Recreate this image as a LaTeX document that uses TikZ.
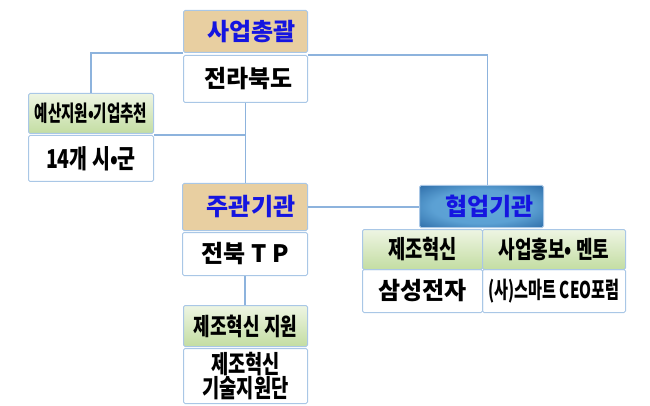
\documentclass[tikz,border=0pt]{standalone}
\usepackage{fontspec}
\setmainfont{Noto Sans CJK KR}[BoldFont={Noto Sans CJK KR Black}]
\newfontfamily\krnarrow{Noto Sans CJK KR}[BoldFont={Noto Sans CJK KR Black}, FakeStretch=0.75]
\newfontfamily\krtight{Noto Sans CJK KR}[BoldFont={Noto Sans CJK KR Black}, FakeStretch=0.66]
\definecolor{boxline}{HTML}{A9C7E6}
\definecolor{linkline}{HTML}{8DB3DD}
\definecolor{tanfill}{HTML}{E8CFA1}
\definecolor{hdrblue}{HTML}{1515E0}
\definecolor{greentop}{HTML}{EEF5E3}
\definecolor{greenbot}{HTML}{C3DDA2}
\definecolor{bluein}{HTML}{62A8DA}
\definecolor{blueout}{HTML}{1D5A98}
\pgfdeclareradialshading{bluebox}{\pgfpoint{0bp}{0bp}}{color(0bp)=(bluein); color(20bp)=(bluein!90!blueout); color(42bp)=(blueout); color(72bp)=(blueout)}
\tikzset{
	cell/.style={draw=boxline, line width=1pt, rounded corners=1.5pt, inner sep=0pt,
		anchor=north west, font=\bfseries\fontsize{24}{26}\selectfont},
	tanhdr/.style={cell, fill=tanfill, text=hdrblue},
	greenhdr/.style={cell, top color=greentop, bottom color=greenbot},
	bluehdr/.style={cell, shading=bluebox, text=hdrblue},
	narrow/.style={font=\krnarrow\bfseries\fontsize{#1}{24}\selectfont},
	tight/.style={font=\krtight\bfseries\fontsize{#1}{24}\selectfont},
	link/.style={draw=linkline, line width=1.5pt}
}
\begin{document}
\begin{tikzpicture}[x=1pt, y=-1pt]
	\useasboundingbox (0,0) rectangle (650,406);

	% 사업총괄
	\node[tanhdr, minimum width=124, minimum height=42] (th) at (183,10) {\hspace*{12pt}사업총괄};
	\node[cell, minimum width=124, minimum height=47] (tb) at (183,55) {\hspace*{6pt}전라북도};

	% 시군
	\node[greenhdr, tight=22, minimum width=125, minimum height=40] (lh) at (28,93) {예산지원•기업추천};
	\node[cell, narrow=26, minimum width=125, minimum height=46] (lb) at (28,135) {14개 시•군};

	% 주관기관
	\node[tanhdr, minimum width=125, minimum height=47] (jh) at (182,183) {\hspace*{12pt}주관기관};
	\node[cell, minimum width=125, minimum height=43] (jb) at (182,232) {전북 T P};
	\node[greenhdr, narrow=24, minimum width=124, minimum height=41] (mh) at (183,305) {제조혁신 지원};
	\node[cell, narrow=25, align=center, minimum width=124, minimum height=55] (mb) at (183,348) {제조혁신\\기술지원단};

	% 협업기관
	\node[bluehdr, minimum width=124, minimum height=42] (hh) at (419,185) {\hspace*{16pt}협업기관};
	\node[greenhdr, narrow=25, minimum width=120, minimum height=40] (ah) at (362,229) {제조혁신};
	\node[greenhdr, narrow=24, minimum width=143, minimum height=40] (bh) at (482,229) {사업홍보• 멘토};
	\node[cell, minimum width=120, minimum height=43] (ab) at (362,269) {삼성전자};
	\node[cell, tight=23, minimum width=143, minimum height=43] (bb) at (482,269) {(사)스마트 CEO포럼};

	\draw[link] (th.south west) -- (th.south west -| lh.north) -- (lh.north);
	\draw[link] (tb.south) -- (tb.south |- jh.north);
	\draw[link] (lb.north east) -- (lb.north east -| tb.south);
	\draw[link] (tb.north east) -| ([xshift=6pt]hh.north);
	\draw[link] (jh.east) -- (jh.east -| hh.west);
	\draw[link] (jb.south) -- (jb.south |- mh.north);
\end{tikzpicture}
\end{document}
